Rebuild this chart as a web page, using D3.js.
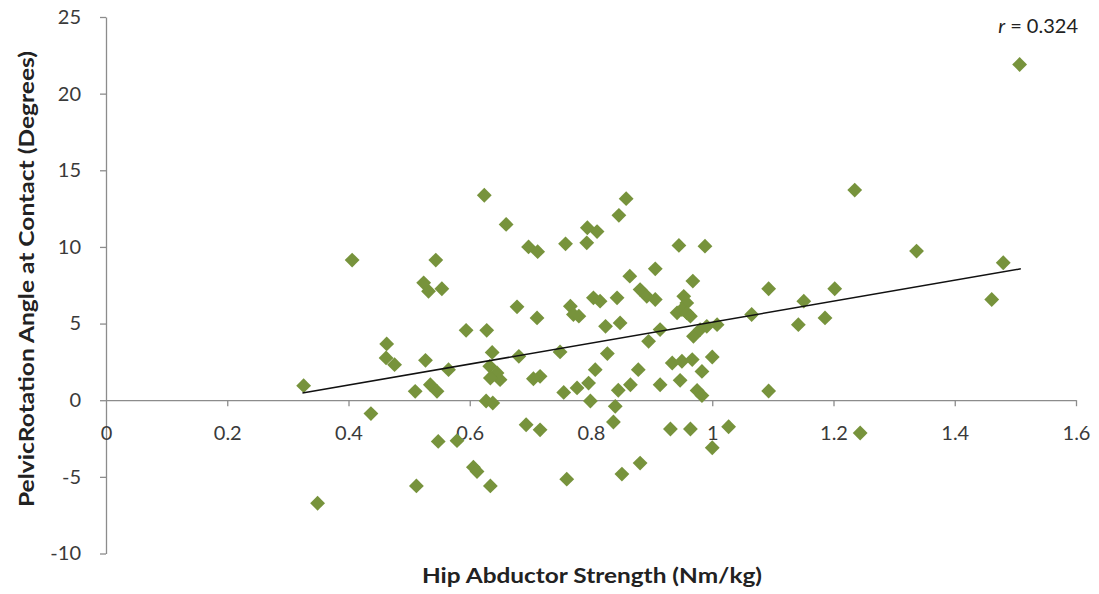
<!DOCTYPE html>
<html>
<head>
<meta charset="utf-8">
<script src="https://cdn.jsdelivr.net/npm/d3@7"></script>
<style>
  body { margin: 0; background: #fff; }
  text { font-family: Lato, "Open Sans", sans-serif; }
</style>
</head>
<body>
<div id="chart_div"></div>
<script>
// hip abductor strength (Nm/kg)
let strength = [
  0.326, 0.349, 0.406, 0.437, 0.463, 0.462, 0.476, 0.510, 0.512, 0.524,
  0.527, 0.532, 0.535, 0.544, 0.546, 0.548, 0.554, 0.565, 0.579, 0.594,
  0.606, 0.612, 0.624, 0.628, 0.627, 0.638, 0.634, 0.637, 0.633, 0.645,
  0.650, 0.634, 0.660, 0.678, 0.681, 0.693, 0.697, 0.711, 0.712, 0.716,
  0.716, 0.705, 0.749, 0.755, 0.758, 0.760, 0.766, 0.771, 0.780, 0.777,
  0.794, 0.793, 0.810, 0.796, 0.799, 0.804, 0.815, 0.807, 0.824, 0.827,
  0.837, 0.840, 0.845, 0.865, 0.843, 0.846, 0.848, 0.851, 0.858, 0.864,
  0.878, 0.881, 0.881, 0.892, 0.895, 0.906, 0.906, 0.914, 0.914, 0.931,
  0.934, 0.945, 0.947, 0.950, 0.953, 0.958, 0.942, 0.950, 0.958, 0.964,
  0.964, 0.967, 0.968, 0.969, 0.975, 0.983, 0.980, 0.983, 0.988, 0.991,
  1.000, 1.000, 1.008, 1.027, 1.065, 1.093, 1.093, 1.142, 1.151, 1.186,
  1.202, 1.235, 1.244, 1.337, 1.461, 1.480, 1.507
]

// pelvic rotation angle at contact (degrees)
let angle = [
  0.95, -6.72, 9.14, -0.87, 3.67, 2.76, 2.32, 0.58, -5.59, 7.66,
  2.60, 7.11, 1.01, 9.14, 0.58, -2.69, 7.27, 1.99, -2.64, 4.56,
  -4.37, -4.65, 13.37, 4.56, -0.05, -0.18, -5.59, 3.12, 2.21, 1.78,
  1.34, 1.45, 11.47, 6.09, 2.86, -1.60, 10.0, 5.37, 9.69, -1.93,
  1.56, 1.40, 3.15, 0.51, 10.2, -5.15, 6.13, 5.59, 5.48, 0.80,
  11.25, 10.27, 11.0, 1.12, -0.05, 6.68, 6.46, 1.99, 4.82, 3.04,
  -1.42, -0.40, 0.65, 1.01, 6.68, 12.06, 5.04, -4.82, 13.15, 8.09,
  1.99, -4.10, 7.22, 6.78, 3.84, 8.57, 6.57, 4.61, 1.01, -1.88,
  2.43, 10.1, 1.30, 2.54, 6.78, 6.35, 5.70, 5.92, 5.70, 5.48,
  -1.88, 2.65, 7.77, 4.17, 0.64, 0.30, 4.61, 1.88, 10.05, 4.82,
  2.82, -3.1, 4.93, -1.73, 5.59, 7.27, 0.60, 4.93, 6.46, 5.37,
  7.27, 13.71, -2.14, 9.73, 6.57, 8.97, 21.9
]

// linear trend line end points
let trend_x = [0.324, 1.509]
let trend_y = [0.47, 8.57]

let x_ticks = [0, 0.2, 0.4, 0.6, 0.8, 1, 1.2, 1.4, 1.6]
let y_ticks = [-10, -5, 0, 5, 10, 15, 20, 25]

let r_label = "0.324"

let width = 1099
let height = 594

window.onload = function(){
  draw()
}

function draw(){

  let points = strength.map((s, i) => [s, angle[i]])

  let svg = d3.select("#chart_div")
    .append("svg")
    .attr("width", width)
    .attr("height", height)

  let x = d3.scaleLinear()
    .domain([0, 1.6])
    .range([106, 1076])

  let y = d3.scaleLinear()
    .domain([-10, 25])
    .range([553.5, 17])

  // plain hyphen for negatives, like the original
  let plain = d => String(d)

  // y axis on the left edge
  let yAxis = svg.append("g")
    .attr("transform", "translate(" + x(0) + ",0)")
    .call(d3.axisLeft(y).tickValues(y_ticks).tickFormat(plain).tickSize(6).tickPadding(19).tickSizeOuter(0))

  // x axis crosses at zero
  let xAxis = svg.append("g")
    .attr("transform", "translate(0," + y(0) + ")")
    .call(d3.axisBottom(x).tickValues(x_ticks).tickFormat(plain).tickSize(6).tickPadding(20).tickSizeOuter(0))

  svg.selectAll(".domain, .tick line")
    .attr("stroke", "#8c8c8c")
    .attr("stroke-width", 1.3)

  svg.selectAll(".tick text")
    .attr("fill", "#3a3a3a")
    .style("font-size", "20px")
    .style("font-family", "Lato, 'Open Sans', sans-serif")

  // first x tick sits on the y axis, no tick mark there
  xAxis.selectAll(".tick").filter(d => d == 0).select("line").remove()

  // points
  let diamond = d3.symbol().type(d3.symbolDiamond2).size(140)

  svg.append("g")
    .selectAll("path")
    .data(points)
    .join("path")
      .attr("d", diamond)
      .attr("transform", d => "translate(" + x(d[0]) + "," + y(d[1]) + ")")
      .attr("fill", "#77933c")

  // trend line
  svg.append("path")
    .datum(trend_x.map((t, i) => [t, trend_y[i]]))
    .attr("fill", "none")
    .attr("stroke", "#111")
    .attr("stroke-width", 1.5)
    .attr("d", d3.line().x(d => x(d[0])).y(d => y(d[1])))

  // labels
  let r_text = svg.append("text")
    .attr("x", 1078)
    .attr("y", 33)
    .attr("text-anchor", "end")
    .attr("fill", "#222")
    .style("font-size", "20px")
  r_text.append("tspan").style("font-style", "italic").text("r")
  r_text.append("tspan").text(" = " + r_label)

  svg.append("text")
    .attr("x", 592)
    .attr("y", 583)
    .attr("text-anchor", "middle")
    .attr("fill", "#222")
    .attr("textLength", 340)
    .attr("lengthAdjust", "spacingAndGlyphs")
    .style("font-size", "21px")
    .style("font-weight", "bold")
    .text("Hip Abductor Strength (Nm/kg)")

  svg.append("text")
    .attr("transform", "translate(34,279) rotate(-90)")
    .attr("text-anchor", "middle")
    .attr("fill", "#222")
    .attr("textLength", 456)
    .attr("lengthAdjust", "spacingAndGlyphs")
    .style("font-size", "21px")
    .style("font-weight", "bold")
    .text("PelvicRotation Angle at Contact (Degrees)")
}
</script>
</body>
</html>
